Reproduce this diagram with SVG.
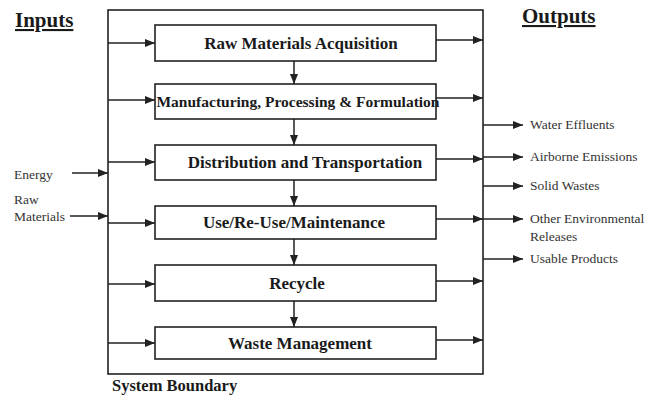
<svg xmlns="http://www.w3.org/2000/svg" width="650" height="402" viewBox="0 0 650 402">
  <style>
    .bg { fill: #ffffff; }
    .box { fill: #ffffff; stroke: #222222; stroke-width: 1.6; }
    .boundary { fill: none; stroke: #222222; stroke-width: 1.6; }
    .wire { fill: none; stroke: #222222; stroke-width: 1.5; marker-end: url(#head); }
    .label { font-family: "Liberation Serif", "Times New Roman", serif; font-weight: bold; font-size: 17px; fill: #1a1a1a; text-anchor: middle; }
    .heading { font-family: "Liberation Serif", "Times New Roman", serif; font-weight: bold; font-size: 21px; fill: #1a1a1a; text-decoration: underline; }
    .caption { font-family: "Liberation Serif", "Times New Roman", serif; font-weight: bold; font-size: 16.5px; fill: #1a1a1a; }
    .small { font-family: "Liberation Serif", "Times New Roman", serif; font-size: 13.5px; fill: #333333; }
  </style>
  <defs>
    <marker id="head" viewBox="0 0 10 8" refX="10" refY="4" markerWidth="10" markerHeight="8" markerUnits="userSpaceOnUse" orient="auto">
      <path d="M0,0 L10,4 L0,8 Z" fill="#222222"/>
    </marker>
  </defs>

  <rect class="bg" x="0" y="0" width="650" height="402"/>

  <!-- headings -->
  <text class="heading" x="15" y="27">Inputs</text>
  <text class="heading" x="522" y="23">Outputs</text>

  <!-- system boundary -->
  <g id="system-boundary">
    <rect class="boundary" x="108" y="10" width="375" height="364"/>
    <text class="caption" x="112" y="391">System Boundary</text>
  </g>

  <!-- life-cycle stages -->
  <g id="raw-materials-acquisition">
    <rect class="box" x="155" y="25" width="281" height="36"/>
    <text class="label" x="301" y="49">Raw Materials Acquisition</text>
  </g>
  <g id="manufacturing">
    <rect class="box" x="155" y="84" width="281" height="35"/>
    <text class="label" x="298" y="107" style="font-size:15.5px">Manufacturing, Processing &amp; Formulation</text>
  </g>
  <g id="distribution">
    <rect class="box" x="155" y="145" width="281" height="35"/>
    <text class="label" x="305" y="168">Distribution and Transportation</text>
  </g>
  <g id="use">
    <rect class="box" x="155" y="206" width="281" height="33"/>
    <text class="label" x="294" y="228">Use/Re-Use/Maintenance</text>
  </g>
  <g id="recycle">
    <rect class="box" x="155" y="265" width="281" height="36"/>
    <text class="label" x="297" y="289">Recycle</text>
  </g>
  <g id="waste-management">
    <rect class="box" x="155" y="327" width="281" height="32"/>
    <text class="label" x="300" y="349">Waste Management</text>
  </g>

  <!-- external inputs -->
  <g id="energy">
    <text class="small" x="14" y="179">Energy</text>
  </g>
  <g id="raw-materials">
    <text class="small" x="14" y="204">Raw</text>
    <text class="small" x="14" y="221">Materials</text>
  </g>

  <!-- external outputs -->
  <g id="water-effluents"><text class="small" x="530" y="129">Water Effluents</text></g>
  <g id="airborne-emissions"><text class="small" x="530" y="161">Airborne Emissions</text></g>
  <g id="solid-wastes"><text class="small" x="530" y="190">Solid Wastes</text></g>
  <g id="other-releases">
    <text class="small" x="530" y="223">Other Environmental</text>
    <text class="small" x="530" y="241">Releases</text>
  </g>
  <g id="usable-products"><text class="small" x="530" y="263">Usable Products</text></g>

  <!-- connectors -->
  <g id="connectors">
    <!-- stage to stage -->
    <line class="wire" x1="294" y1="61" x2="294" y2="84"/>
    <line class="wire" x1="294" y1="119" x2="294" y2="145"/>
    <line class="wire" x1="294" y1="180" x2="294" y2="206"/>
    <line class="wire" x1="294" y1="239" x2="294" y2="265"/>
    <line class="wire" x1="294" y1="301" x2="294" y2="327"/>
    <!-- boundary into stages -->
    <line class="wire" x1="108" y1="43" x2="155" y2="43"/>
    <line class="wire" x1="108" y1="100" x2="155" y2="100"/>
    <line class="wire" x1="108" y1="162" x2="155" y2="162"/>
    <line class="wire" x1="108" y1="223" x2="155" y2="223"/>
    <line class="wire" x1="108" y1="284" x2="155" y2="284"/>
    <line class="wire" x1="108" y1="343" x2="155" y2="343"/>
    <!-- stages out to boundary -->
    <line class="wire" x1="436" y1="40" x2="483" y2="40"/>
    <line class="wire" x1="436" y1="98" x2="483" y2="98"/>
    <line class="wire" x1="436" y1="159" x2="483" y2="159"/>
    <line class="wire" x1="436" y1="219" x2="483" y2="219"/>
    <line class="wire" x1="436" y1="281" x2="483" y2="281"/>
    <line class="wire" x1="436" y1="340" x2="483" y2="340"/>
    <!-- external inputs -->
    <line class="wire" x1="72" y1="173" x2="108" y2="173"/>
    <line class="wire" x1="70" y1="216" x2="108" y2="216"/>
    <!-- external outputs -->
    <line class="wire" x1="483" y1="125" x2="523" y2="125"/>
    <line class="wire" x1="483" y1="157" x2="523" y2="157"/>
    <line class="wire" x1="483" y1="186" x2="523" y2="186"/>
    <line class="wire" x1="483" y1="219" x2="523" y2="219"/>
    <line class="wire" x1="483" y1="259" x2="523" y2="259"/>
  </g>
</svg>
